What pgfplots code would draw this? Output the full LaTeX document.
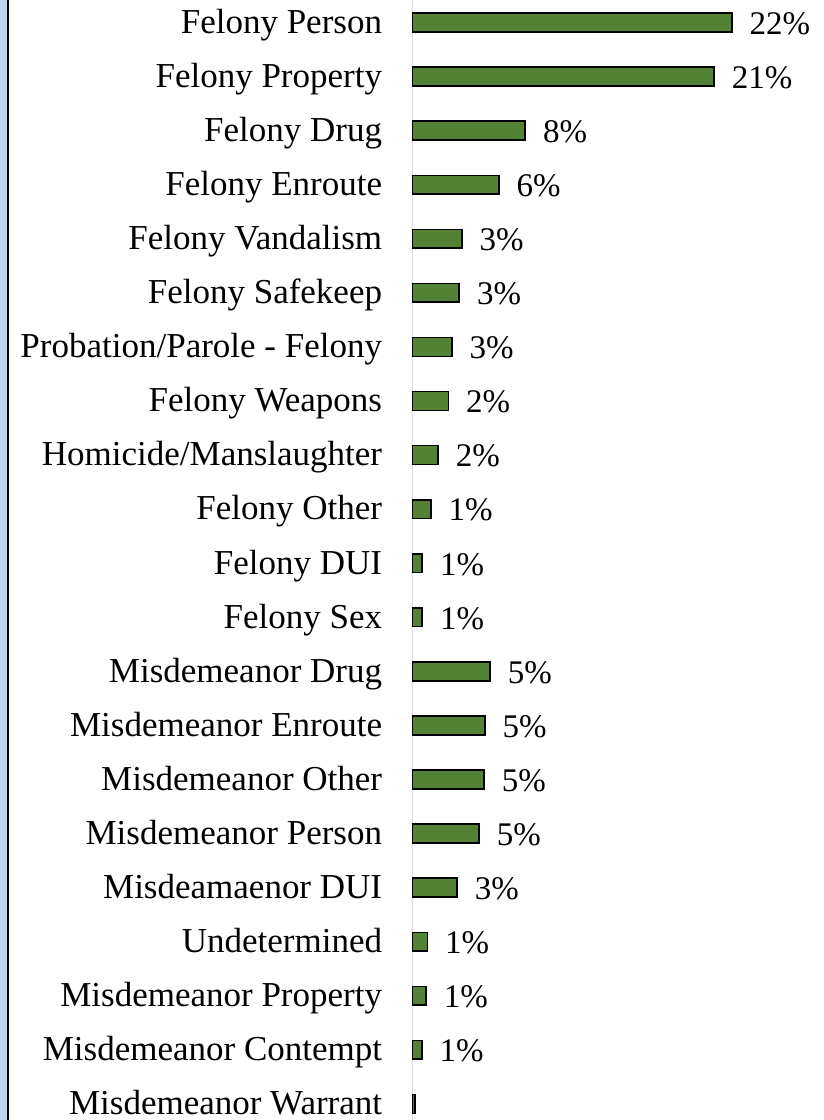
\documentclass[border=0pt]{standalone}
\usepackage{fontspec}
\setmainfont{Liberation Serif}
\usepackage{pgfplots}
\pgfplotsset{compat=1.18}
\usepackage{pgfplotstable}
\definecolor{bargreen}{HTML}{548235}
\definecolor{stripblue}{HTML}{BDD7EE}
\definecolor{axisgray}{HTML}{D9D9D9}

\pgfplotstableread{
y val lab
0 22.17 22
1 20.94 21
2 7.83 8
3 5.99 6
4 3.42 3
5 3.25 3
6 2.74 3
7 2.49 2
8 1.77 2
9 1.28 1
10 0.68 1
11 0.68 1
12 5.38 5
13 5.03 5
14 4.97 5
15 4.62 5
16 3.09 3
17 1.03 1
18 0.94 1
19 0.64 1
}\datatable

\begin{document}
\begin{tikzpicture}
\begin{axis}[
  x=7.2pt, y=27.035pt, y dir=reverse,
  xmin=0, xmax=28.5, ymin=-0.5, ymax=20.5,
  axis x line=none, axis y line*=left,
  axis line style={draw=axisgray, line width=0.75pt, -},
  ytick={0,...,20},
  yticklabels={Felony Person,Felony Property,Felony Drug,Felony Enroute,Felony Vandalism,Felony Safekeep,Probation/Parole - Felony,Felony Weapons,Homicide/Manslaughter,Felony Other,Felony DUI,Felony Sex,Misdemeanor Drug,Misdemeanor Enroute,Misdemeanor Other,Misdemeanor Person,Misdeamaenor DUI,Undetermined,Misdemeanor Property,Misdemeanor Contempt,Misdemeanor Warrant},
  major tick length=0pt,
  yticklabel style={font=\fontsize{17.5}{20}\selectfont, anchor=base east, inner sep=0pt, xshift=-15pt, yshift=-5.4pt},
  clip=false,
]
\addplot[xbar, bar width=9.4pt, fill=bargreen, draw=black, line width=0.8pt,
  point meta=explicit symbolic,
  nodes near coords={\pgfplotspointmeta\%},
  nodes near coords style={font=\fontsize{16.5}{19}\selectfont, anchor=base west, inner sep=0pt, xshift=8.5pt, yshift=-5.9pt}]
  table[x=val, y=y, meta=lab] {\datatable};
\addplot[xbar, bar width=9.4pt, fill=bargreen, draw=black, line width=0.8pt]
  coordinates {(0.17,20)};
\coordinate (O) at (axis cs:0,0);
\end{axis}
\fill[stripblue] ([shift={(-206.25pt,11.25pt)}]O) rectangle ([shift={(-202.75pt,-548.75pt)}]O);
\draw[black, line width=1pt] ([shift={(-202.1pt,11.25pt)}]O) -- ([shift={(-202.1pt,-548.75pt)}]O);
\pgfresetboundingbox
\path[use as bounding box] ([shift={(-206.25pt,11.25pt)}]O) rectangle ([shift={(205.75pt,-548.75pt)}]O);
\end{tikzpicture}
\end{document}
